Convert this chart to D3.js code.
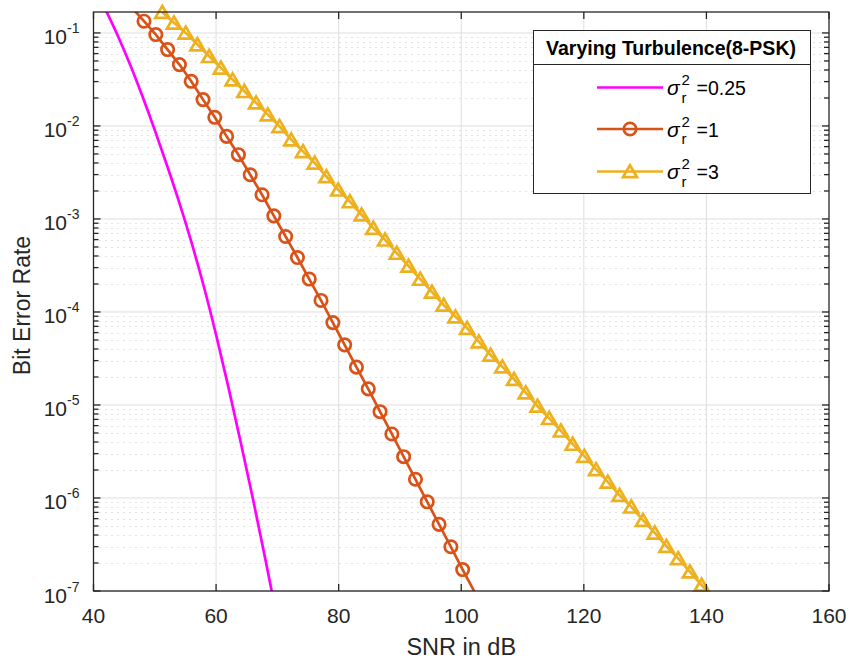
<!DOCTYPE html>
<html>
<head>
<meta charset="utf-8">
<script src="https://cdn.jsdelivr.net/npm/d3@7/dist/d3.min.js"></script>
<style>
body{margin:0;background:#fff;}
text{font-family:"Liberation Sans",Arial,sans-serif;fill:#262626;}
</style>
</head>
<body>
<script>
// data
var snrMagenta=[40,42,44,46,48,50,52,54,56,58,60,62,64,66,68,70]
var berMagenta=[0.320,0.176,0.0923,0.0452,0.0207,0.00902,0.00376,0.00150,5.56e-4,1.88e-4,5.69e-5,1.567e-5,4.03e-6,9.89e-7,2.26e-7,4.95e-8]

var snrOrange=[46.31,48.24,50.17,52.09,54.02,55.94,57.87,59.79,61.72,63.64,65.57,67.50,69.42,71.35,73.27,75.20,
  77.12,79.05,80.98,82.90,84.83,86.75,88.68,90.60,92.53,94.45,96.38,98.31,100.23,102.16]
var berOrange=[0.186,0.1337,0.0961,0.0663,0.0457,0.0302,0.0192,0.01239,0.00773,0.00491,0.00299,0.00182,0.00108,
  6.48e-4,3.85e-4,2.26e-4,1.33e-4,7.69e-5,4.43e-5,2.55e-5,1.49e-5,8.47e-6,4.88e-6,2.78e-6,1.59e-6,9.1e-7,5.2e-7,
  2.99e-7,1.70e-7,9.8e-8]

var snrYellow=[49.31,51.22,53.13,55.05,56.96,58.87,60.79,62.70,64.61,66.52,68.44,70.35,72.26,74.18,76.09,78.00,
  79.92,81.83,83.74,85.65,87.57,89.48,91.39,93.31,95.22,97.13,99.05,100.96,102.87,104.78,106.70,108.61,110.52,
  112.44,114.35,116.26,118.18,120.09,122.00,123.91,125.83,127.74,129.65,131.57,133.48,135.39,137.31,139.22,141.13]
var berYellow=[0.219,0.167,0.1285,0.1002,0.0750,0.0561,0.0421,0.0315,0.0236,0.0178,0.01324,0.00991,0.00713,
  0.00533,0.00400,0.00286,0.00206,0.00154,0.00111,7.98e-4,5.97e-4,4.30e-4,3.12e-4,2.26e-4,1.64e-4,1.19e-4,
  8.91e-5,6.70e-5,4.80e-5,3.45e-5,2.58e-5,1.89e-5,1.355e-5,9.75e-6,7.19e-6,5.28e-6,3.80e-6,2.82e-6,2.03e-6,
  1.49e-6,1.07e-6,8.04e-7,5.78e-7,4.22e-7,3.03e-7,2.24e-7,1.61e-7,1.16e-7,8.3e-8]

var xTicks=[40,60,80,100,120,140,160]
var yExponents=[-7,-6,-5,-4,-3,-2,-1]
var legendLabels=['=0.25','=1','=3']
var legendTitle='Varying Turbulence(8-PSK)'

var screen={width:851,height:666}
var plot={left:93.5,right:829,top:12,bottom:591}
var ink='#262626'

var svg=d3.select('body').append('svg')
  .attr('width',screen.width)
  .attr('height',screen.height)
  .style('display','block')

// scales
var xScale=d3.scaleLinear()
  .domain([40,160])
  .range([plot.left,plot.right])

var yScale=d3.scaleLog()
  .domain([1e-7,0.168])
  .range([plot.bottom,plot.top])

svg.append('defs').append('clipPath')
  .attr('id','plotclip')
  .append('rect')
  .attr('x',plot.left)
  .attr('y',plot.top)
  .attr('width',plot.right-plot.left)
  .attr('height',plot.bottom-plot.top)

// minor grid (dotted, y only)
var minorVals=[]
yExponents.forEach(function(e){
  for(var k=2;k<=9;k++){
    var v=k*Math.pow(10,e)
    if(v<=0.168) minorVals.push(v)
  }
})

svg.append('g')
  .selectAll('line')
  .data(minorVals)
  .enter()
  .append('line')
  .attr('x1',plot.left)
  .attr('x2',plot.right)
  .attr('y1',function(d){return Math.round(yScale(d))+0.5})
  .attr('y2',function(d){return Math.round(yScale(d))+0.5})
  .attr('stroke','#c4c4c4')
  .attr('stroke-width',1)
  .attr('stroke-dasharray','1,5')

// major grid
svg.append('g')
  .selectAll('line')
  .data(yExponents)
  .enter()
  .append('line')
  .attr('x1',plot.left)
  .attr('x2',plot.right)
  .attr('y1',function(d){return yScale(Math.pow(10,d))})
  .attr('y2',function(d){return yScale(Math.pow(10,d))})
  .attr('stroke','#dedede')
  .attr('stroke-width',1)

svg.append('g')
  .selectAll('line')
  .data(xTicks.slice(1,-1))
  .enter()
  .append('line')
  .attr('x1',function(d){return xScale(d)})
  .attr('x2',function(d){return xScale(d)})
  .attr('y1',plot.top)
  .attr('y2',plot.bottom)
  .attr('stroke','#dedede')
  .attr('stroke-width',1)

// lines
var line=d3.line()
  .x(function(d){return xScale(d[0])})
  .y(function(d){return yScale(d[1])})

var smooth=d3.line()
  .curve(d3.curveMonotoneX)
  .x(function(d){return xScale(d[0])})
  .y(function(d){return yScale(d[1])})

var magenta=d3.zip(snrMagenta,berMagenta)
var orange=d3.zip(snrOrange,berOrange)
var yellow=d3.zip(snrYellow,berYellow)

var curves=svg.append('g').attr('clip-path','url(#plotclip)')

curves.append('path')
  .attr('d',line(yellow))
  .attr('fill','none')
  .attr('stroke','#EDB120')
  .attr('stroke-width',2.7)

curves.append('path')
  .attr('d',line(orange))
  .attr('fill','none')
  .attr('stroke','#D95319')
  .attr('stroke-width',2.7)

curves.append('path')
  .attr('d',smooth(magenta))
  .attr('fill','none')
  .attr('stroke','#FF00FF')
  .attr('stroke-width',2.7)

function inside(d){return d[1]>=1e-7 && d[1]<=0.168}

var triPath='M0,-6.3L7,5.7L-7,5.7Z'

// markers
svg.append('g')
  .selectAll('circle')
  .data(orange.filter(inside))
  .enter()
  .append('circle')
  .attr('cx',function(d){return xScale(d[0])})
  .attr('cy',function(d){return yScale(d[1])})
  .attr('r',6.2)
  .attr('fill','none')
  .attr('stroke','#D95319')
  .attr('stroke-width',2.7)

svg.append('g')
  .selectAll('path')
  .data(yellow.filter(inside))
  .enter()
  .append('path')
  .attr('d',triPath)
  .attr('transform',function(d){return 'translate('+xScale(d[0])+','+yScale(d[1])+')'})
  .attr('fill','none')
  .attr('stroke','#EDB120')
  .attr('stroke-width',2.7)

// axes box
svg.append('rect')
  .attr('x',plot.left)
  .attr('y',plot.top)
  .attr('width',plot.right-plot.left)
  .attr('height',plot.bottom-plot.top)
  .attr('fill','none')
  .attr('stroke',ink)
  .attr('stroke-width',1.3)

// x ticks (bottom and top, inward)
var ticks=svg.append('g').attr('stroke',ink).attr('stroke-width',1.3)
xTicks.forEach(function(t){
  ticks.append('line').attr('x1',xScale(t)).attr('x2',xScale(t)).attr('y1',plot.bottom).attr('y2',plot.bottom-7)
  ticks.append('line').attr('x1',xScale(t)).attr('x2',xScale(t)).attr('y1',plot.top).attr('y2',plot.top+7)
})

// y ticks, major and minor
yExponents.forEach(function(e){
  var yy=yScale(Math.pow(10,e))
  ticks.append('line').attr('x1',plot.left).attr('x2',plot.left+7).attr('y1',yy).attr('y2',yy)
  ticks.append('line').attr('x1',plot.right).attr('x2',plot.right-7).attr('y1',yy).attr('y2',yy)
})
minorVals.forEach(function(v){
  var yy=yScale(v)
  ticks.append('line').attr('x1',plot.left).attr('x2',plot.left+5).attr('y1',yy).attr('y2',yy)
  ticks.append('line').attr('x1',plot.right).attr('x2',plot.right-5).attr('y1',yy).attr('y2',yy)
})

// x labels
svg.append('g')
  .selectAll('text')
  .data(xTicks)
  .enter()
  .append('text')
  .attr('x',function(d){return xScale(d)})
  .attr('y',623)
  .attr('text-anchor','middle')
  .style('font-size','21px')
  .text(function(d){return d})

// y labels 10^e
svg.append('g')
  .selectAll('text')
  .data(yExponents)
  .enter()
  .append('text')
  .attr('x',67)
  .attr('y',function(d){return yScale(Math.pow(10,d))+11.5})
  .attr('text-anchor','end')
  .style('font-size','21px')
  .text('10')
svg.append('g')
  .selectAll('text')
  .data(yExponents)
  .enter()
  .append('text')
  .attr('x',67)
  .attr('y',function(d){return yScale(Math.pow(10,d))+0.5})
  .style('font-size','14px')
  .text(function(d){return '-'+(-d)})

// axis titles
svg.append('text')
  .attr('x',(plot.left+plot.right)/2)
  .attr('y',655)
  .attr('text-anchor','middle')
  .style('font-size','23.5px')
  .text('SNR in dB')

svg.append('text')
  .attr('transform','translate(30,'+((plot.top+plot.bottom)/2+4)+') rotate(-90)')
  .attr('text-anchor','middle')
  .style('font-size','23px')
  .text('Bit Error Rate')

// legend
var legend=svg.append('g').attr('class','legend')
legend.append('rect')
  .attr('x',533.5)
  .attr('y',30.5)
  .attr('width',277)
  .attr('height',163)
  .attr('fill','#fff')
  .attr('stroke',ink)
  .attr('stroke-width',1)
legend.append('line')
  .attr('x1',533.5).attr('x2',810.5)
  .attr('y1',64.5).attr('y2',64.5)
  .attr('stroke',ink)
  .attr('stroke-width',1)
legend.append('text')
  .attr('x',671)
  .attr('y',55)
  .attr('text-anchor','middle')
  .style('font-size','19.5px')
  .style('font-weight','bold')
  .style('fill','#000')
  .text(legendTitle)

var rows=[87.5,129,171.5]
var colors=['#FF00FF','#D95319','#EDB120']
legendLabels.forEach(function(lab,i){
  var yy=rows[i]
  legend.append('line')
    .attr('x1',597).attr('x2',663)
    .attr('y1',yy).attr('y2',yy)
    .attr('stroke',colors[i])
    .attr('stroke-width',2.7)
  if(i==1){
    legend.append('circle').attr('cx',630).attr('cy',yy).attr('r',6.2)
      .attr('fill','none').attr('stroke',colors[i]).attr('stroke-width',2.7)
  }
  if(i==2){
    legend.append('path').attr('d',triPath).attr('transform','translate(630,'+yy+')')
      .attr('fill','none').attr('stroke',colors[i]).attr('stroke-width',2.7)
  }
  legend.append('text').attr('x',667).attr('y',yy+7.5)
    .style('font-size','21px').style('font-style','italic').style('fill','#000').text('σ')
  legend.append('text').attr('x',681.5).attr('y',yy-2.5)
    .style('font-size','15px').style('fill','#000').text('2')
  legend.append('text').attr('x',681.5).attr('y',yy+15)
    .style('font-size','15px').style('fill','#000').text('r')
  legend.append('text').attr('x',696.5).attr('y',yy+7.5)
    .style('font-size','19.5px').style('fill','#000').text(lab)
})
</script>
</body>
</html>
